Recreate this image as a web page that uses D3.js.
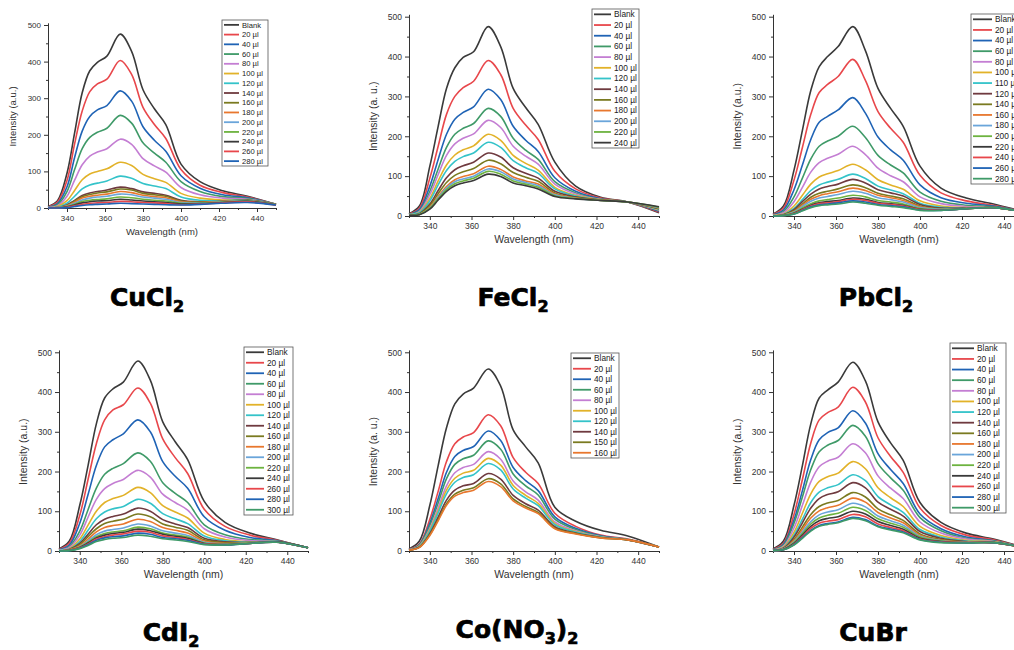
<!DOCTYPE html>
<html>
<head>
<meta charset="utf-8">
<script src="https://cdn.jsdelivr.net/npm/d3@7"></script>
<style>
  body { margin: 0; background: #fff; }
  svg { display: block; }
</style>
</head>
<body>
<svg id="chart" width="1014" height="650"></svg>
<script>
// wavelength grid (nm) shared by every spectrum
const wavelengths = [330, 335, 340, 344, 348, 352, 356, 361, 368, 374, 380, 386, 392, 400, 410, 422, 435, 450];
const yTicks = [0, 100, 200, 300, 400, 500];
const xTicks = [340, 360, 380, 400, 420, 440];

const seriesColors = ['#3a3a3a', '#e8474b', '#1f63b5', '#3f9a68', '#c47ed3', '#e2b229', '#34c3c9', '#6f3a3f',
  '#7a7a20', '#e8772e', '#6aa5da', '#6db33f', '#3a3a3a', '#e8474b', '#1f63b5', '#3f9a68'];

// CuCl2
const cuclLabels = ['Blank', '20 µl', '40 µl', '60 µl', '80 µl', '100 µl', '120 µl', '140 µl', '160 µl',
  '180 µl', '200 µl', '220 µl', '240 µl', '260 µl', '280 µl'];
const cuclSeries = [
  [4, 20, 95, 205, 315, 375, 398, 415, 475, 428, 323, 271, 228, 120, 72, 47, 32, 10],
  [3, 16, 75, 175, 265, 318, 339, 352, 403, 365, 275, 228, 190, 105, 62, 42, 30, 10],
  [2, 12, 58, 138, 210, 250, 268, 280, 320, 292, 222, 185, 155, 88, 54, 36, 28, 10],
  [2, 9, 45, 105, 162, 193, 207, 218, 253, 232, 178, 150, 125, 72, 45, 31, 26, 10],
  [1, 6, 32, 76, 118, 142, 153, 162, 188, 174, 135, 115, 98, 56, 36, 27, 24, 10],
  [0, 4, 20, 48, 77, 93, 100, 107, 125, 116, 92, 80, 70, 40, 27, 22, 22, 10],
  [0, 2, 13, 32, 52, 63, 68, 74, 87, 81, 67, 60, 53, 30, 21, 20, 22, 10],
  [0, 1, 8, 21, 34, 41, 45, 49, 57, 53, 44, 40, 35, 21, 17, 18, 21, 10],
  [0, 1, 7, 19, 31, 37, 41, 44, 52, 49, 40, 36, 32, 19, 16, 18, 21, 9],
  [0, 1, 6, 16, 27, 32, 35, 38, 45, 42, 35, 31, 28, 17, 15, 18, 20, 9],
  [0, 1, 5, 13, 22, 27, 30, 32, 38, 36, 30, 27, 24, 15, 14, 17, 20, 9],
  [0, 0, 4, 10, 18, 21, 23, 25, 30, 28, 24, 21, 19, 13, 13, 16, 19, 9],
  [0, 0, 3, 8, 14, 17, 19, 20, 24, 22, 19, 17, 15, 11, 12, 15, 18, 8],
  [0, 0, 2, 6, 10, 13, 14, 15, 18, 17, 15, 14, 12, 9, 11, 14, 17, 8],
  [0, 0, 1, 4, 7, 9, 10, 11, 13, 12, 11, 10, 9, 8, 10, 13, 15, 8]
];

// FeCl2
const feclLabels = ['Blank', '20 µl', '40 µl', '60 µl', '80 µl', '100 µl', '120 µl', '140 µl', '160 µl',
  '180 µl', '200 µl', '220 µl', '240 µl'];
const feclSeries = [
  [6, 25, 125, 225, 320, 372, 398, 412, 475, 425, 320, 272, 230, 135, 75, 47, 35, 8],
  [5, 20, 95, 175, 255, 300, 322, 338, 390, 355, 270, 228, 192, 112, 68, 45, 35, 10],
  [4, 16, 75, 142, 205, 243, 260, 274, 318, 292, 225, 190, 162, 96, 62, 43, 35, 12],
  [4, 13, 62, 118, 172, 205, 220, 232, 270, 250, 195, 165, 142, 86, 58, 42, 35, 14],
  [3, 11, 54, 104, 152, 181, 195, 206, 240, 222, 175, 150, 130, 80, 55, 41, 35, 15],
  [3, 9, 44, 88, 128, 153, 166, 176, 205, 190, 152, 132, 115, 72, 52, 41, 35, 16],
  [3, 8, 38, 78, 114, 137, 149, 158, 185, 172, 139, 121, 107, 68, 50, 40, 35, 17],
  [2, 6, 30, 64, 96, 116, 126, 135, 158, 148, 121, 107, 95, 62, 48, 40, 35, 18],
  [2, 5, 26, 56, 84, 102, 111, 119, 140, 131, 109, 97, 87, 58, 46, 40, 35, 19],
  [2, 4, 22, 49, 74, 91, 99, 106, 125, 117, 98, 88, 80, 55, 45, 39, 35, 20],
  [2, 4, 20, 46, 70, 86, 93, 100, 118, 111, 93, 84, 76, 53, 44, 39, 35, 21],
  [2, 4, 19, 43, 66, 81, 88, 95, 112, 105, 88, 80, 72, 51, 44, 39, 35, 22],
  [2, 3, 17, 40, 62, 76, 83, 89, 105, 99, 83, 76, 68, 49, 43, 39, 35, 23]
];

// PbCl2
const pbclLabels = ['Blank', '20 µl', '40 µl', '60 µl', '80 µl', '100 µl', '110 µl', '120 µl', '140 µl',
  '160 µl', '180 µl', '200 µl', '220 µl', '240 µl', '260 µl', '280 µl'];
const pbclSeries = [
  [5, 25, 115, 215, 315, 375, 400, 425, 475, 415, 320, 270, 225, 125, 70, 45, 30, 10],
  [4, 20, 90, 172, 255, 310, 330, 350, 393, 340, 262, 220, 185, 102, 58, 38, 27, 10],
  [3, 15, 66, 128, 192, 235, 250, 266, 297, 258, 198, 166, 140, 78, 46, 32, 25, 10],
  [2, 11, 48, 95, 143, 175, 188, 200, 225, 197, 152, 128, 108, 60, 37, 27, 23, 10],
  [1, 8, 36, 72, 110, 134, 145, 155, 175, 154, 120, 101, 86, 48, 31, 24, 22, 10],
  [1, 5, 25, 52, 80, 98, 106, 114, 130, 116, 91, 78, 67, 38, 25, 21, 21, 10],
  [0, 4, 19, 41, 64, 78, 85, 92, 105, 94, 75, 65, 56, 32, 22, 20, 21, 10],
  [0, 3, 16, 36, 55, 68, 74, 80, 92, 83, 66, 58, 50, 29, 20, 20, 21, 10],
  [0, 3, 13, 30, 47, 57, 62, 68, 78, 71, 57, 50, 43, 25, 18, 19, 21, 10],
  [0, 2, 11, 27, 42, 51, 56, 61, 70, 64, 52, 46, 39, 23, 17, 19, 21, 10],
  [0, 2, 10, 24, 37, 45, 49, 54, 62, 57, 46, 41, 35, 21, 17, 19, 21, 10],
  [0, 2, 8, 20, 31, 38, 41, 45, 52, 48, 39, 35, 30, 19, 16, 18, 21, 10],
  [0, 1, 7, 17, 27, 33, 36, 39, 45, 42, 34, 31, 27, 17, 15, 18, 21, 10],
  [0, 1, 6, 16, 25, 31, 33, 36, 42, 39, 32, 29, 25, 16, 15, 18, 21, 10],
  [0, 1, 5, 14, 23, 28, 30, 33, 38, 35, 29, 26, 23, 15, 14, 18, 21, 10],
  [0, 1, 5, 13, 21, 26, 28, 30, 35, 32, 27, 24, 21, 14, 14, 18, 21, 10]
];

// CdI2
const cdiLabels = ['Blank', '20 µl', '40 µl', '60 µl', '80 µl', '100 µl', '120 µl', '140 µl', '160 µl',
  '180 µl', '200 µl', '220 µl', '240 µl', '260 µl', '280 µl', '300 µl'];
const cdiSeries = [
  [5, 25, 115, 215, 320, 385, 408, 425, 478, 430, 325, 275, 230, 125, 72, 45, 28, 8],
  [4, 20, 90, 180, 270, 330, 355, 368, 410, 372, 282, 235, 195, 105, 62, 40, 27, 8],
  [3, 15, 70, 142, 215, 262, 280, 295, 330, 300, 225, 188, 158, 86, 52, 34, 26, 8],
  [2, 11, 50, 104, 158, 193, 208, 220, 247, 226, 172, 145, 122, 66, 41, 29, 25, 8],
  [2, 9, 40, 85, 130, 157, 170, 180, 203, 186, 143, 122, 103, 56, 35, 26, 24, 8],
  [1, 6, 30, 65, 100, 122, 132, 140, 160, 147, 114, 98, 83, 45, 29, 23, 23, 8],
  [1, 5, 24, 52, 81, 98, 106, 112, 130, 120, 94, 81, 69, 38, 26, 22, 23, 8],
  [0, 4, 19, 42, 66, 80, 87, 93, 108, 100, 79, 68, 59, 32, 23, 21, 23, 8],
  [0, 3, 16, 36, 56, 69, 75, 80, 93, 86, 68, 60, 52, 28, 21, 21, 23, 8],
  [0, 3, 13, 30, 48, 59, 64, 68, 80, 74, 59, 52, 45, 25, 19, 20, 23, 8],
  [0, 2, 11, 25, 41, 50, 54, 58, 68, 63, 51, 45, 39, 22, 18, 20, 23, 8],
  [0, 2, 10, 22, 36, 44, 48, 51, 60, 56, 45, 40, 35, 20, 17, 20, 23, 8],
  [0, 2, 9, 20, 33, 40, 44, 47, 55, 51, 42, 37, 32, 19, 16, 19, 23, 8],
  [0, 2, 8, 18, 30, 36, 40, 43, 50, 47, 38, 34, 29, 18, 16, 19, 22, 8],
  [0, 1, 7, 16, 27, 33, 36, 38, 45, 42, 34, 31, 27, 17, 15, 19, 22, 8],
  [0, 1, 6, 14, 24, 29, 32, 34, 40, 37, 31, 28, 24, 16, 15, 19, 22, 8]
];

// Co(NO3)2
const conoLabels = ['Blank', '20 µl', '40 µl', '60 µl', '80 µl', '100 µl', '120 µl', '140 µl', '150 µl', '160 µl'];
const conoSeries = [
  [5, 25, 115, 215, 310, 370, 395, 410, 458, 415, 305, 262, 222, 110, 75, 52, 38, 10],
  [4, 18, 80, 150, 225, 270, 287, 298, 343, 315, 235, 198, 170, 95, 62, 40, 30, 10],
  [3, 16, 70, 132, 198, 238, 253, 263, 302, 278, 210, 177, 152, 86, 57, 38, 29, 10],
  [3, 15, 64, 121, 182, 218, 232, 241, 277, 256, 194, 164, 141, 80, 54, 37, 28, 10],
  [3, 13, 57, 109, 164, 197, 210, 218, 250, 231, 176, 149, 128, 73, 51, 36, 28, 10],
  [2, 12, 53, 101, 153, 183, 196, 203, 233, 216, 165, 140, 120, 69, 49, 35, 28, 10],
  [2, 11, 50, 96, 144, 173, 185, 192, 220, 204, 156, 133, 114, 66, 48, 35, 28, 10],
  [2, 10, 44, 85, 128, 153, 164, 170, 195, 181, 140, 119, 103, 61, 45, 34, 28, 10],
  [2, 9, 41, 79, 119, 143, 153, 159, 182, 169, 131, 112, 97, 58, 44, 33, 28, 10],
  [2, 9, 39, 76, 115, 138, 147, 153, 175, 162, 126, 108, 94, 56, 43, 33, 28, 10]
];

// CuBr
const cubrLabels = ['Blank', '20 µl', '40 µl', '60 µl', '80 µl', '100 µl', '120 µl', '140 µl', '160 µl',
  '180 µl', '200 µl', '220 µl', '240 µl', '260 µl', '280 µl', '300 µl'];
const cubrSeries = [
  [5, 25, 115, 215, 320, 385, 405, 425, 475, 428, 325, 272, 228, 122, 72, 45, 30, 8],
  [4, 20, 92, 180, 272, 330, 348, 362, 412, 375, 285, 238, 198, 108, 64, 40, 28, 8],
  [3, 17, 78, 152, 230, 280, 298, 310, 353, 322, 245, 205, 170, 93, 56, 35, 26, 8],
  [3, 15, 70, 136, 205, 250, 266, 278, 316, 289, 220, 184, 153, 84, 51, 32, 25, 8],
  [2, 12, 58, 115, 174, 212, 226, 236, 270, 247, 189, 158, 132, 73, 45, 30, 24, 8],
  [2, 10, 47, 95, 144, 175, 187, 196, 225, 207, 159, 134, 112, 62, 39, 27, 23, 8],
  [2, 8, 40, 80, 122, 148, 159, 167, 192, 177, 137, 116, 97, 54, 35, 25, 22, 8],
  [1, 7, 35, 71, 108, 132, 142, 149, 172, 159, 123, 105, 88, 49, 32, 24, 22, 8],
  [1, 6, 29, 60, 92, 112, 121, 127, 147, 136, 106, 91, 77, 43, 29, 23, 21, 8],
  [1, 5, 26, 54, 83, 101, 109, 115, 133, 123, 97, 83, 71, 40, 27, 22, 21, 8],
  [1, 5, 23, 48, 74, 91, 98, 104, 120, 111, 88, 76, 65, 37, 26, 22, 21, 8],
  [1, 4, 21, 44, 68, 83, 90, 95, 110, 102, 81, 70, 60, 35, 25, 21, 21, 8],
  [1, 4, 19, 40, 62, 76, 82, 86, 100, 93, 74, 64, 55, 32, 24, 21, 21, 8],
  [1, 3, 17, 36, 57, 70, 75, 79, 92, 86, 68, 59, 51, 30, 23, 21, 21, 8],
  [1, 3, 16, 34, 52, 64, 69, 73, 85, 79, 63, 55, 48, 29, 22, 20, 21, 8],
  [1, 3, 15, 32, 50, 62, 67, 71, 82, 76, 61, 53, 46, 28, 21, 20, 21, 8]
];

// layout of each panel (pixels)
const panels = [
  { title: [['CuCl', 0], ['2', 1]], labels: cuclLabels, series: cuclSeries, yTitle: 'Intensity (a.u.)',
    left: 48, right: 276, bottom: 208, top500: 25, tx: 147, ty: 306,
    lg: { x: 222, y: 20, w: 46, h: 146, line: 15, fs: 7.6 }, fs: 8, afs: 9.5 },
  { title: [['FeCl', 0], ['2', 1]], labels: feclLabels, series: feclSeries, yTitle: 'Intensity (a. u.)',
    left: 409, right: 659, bottom: 216, top500: 16.7, tx: 513, ty: 306,
    lg: { x: 592, y: 9, w: 47, h: 139, line: 17, fs: 8.3 }, fs: 8.5, afs: 10.5 },
  { title: [['PbCl', 0], ['2', 1]], labels: pbclLabels, series: pbclSeries, yTitle: 'Intensity (a.u.)',
    left: 773, right: 1025, bottom: 216, top500: 16.7, tx: 876, ty: 306,
    lg: { x: 971, y: 14, w: 50, h: 170, line: 19, fs: 8.3 }, fs: 8.5, afs: 10.5 },
  { title: [['CdI', 0], ['2', 1]], labels: cdiLabels, series: cdiSeries, yTitle: 'Intensity (a.u.)',
    left: 59, right: 308, bottom: 551, top500: 352.3, tx: 171, ty: 641,
    lg: { x: 244, y: 347, w: 49, h: 168, line: 18, fs: 8.3 }, fs: 8.5, afs: 10.5 },
  { title: [['Co(NO', 0], ['3', 1], [')', 0], ['2', 1]], labels: conoLabels, series: conoSeries, yTitle: 'Intensity (a. u.)',
    left: 409, right: 659, bottom: 551, top500: 352.3, tx: 517, ty: 638,
    lg: { x: 571, y: 353, w: 48, h: 105, line: 18, fs: 8.3 }, fs: 8.5, afs: 10.5 },
  { title: [['CuBr', 0]], labels: cubrLabels, series: cubrSeries, yTitle: 'Intensity (a.u.)',
    left: 773, right: 1025, bottom: 551, top500: 352.3, tx: 873, ty: 641,
    lg: { x: 950, y: 343, w: 56, h: 170, line: 22, fs: 8.3 }, fs: 8.5, afs: 10.5 }
];

const svg = d3.select('#chart');
svg.append('rect').attr('width', 1014).attr('height', 650).attr('fill', '#fff');

panels.forEach((p) => {
  const g = svg.append('g');
  const x = d3.scaleLinear().domain([330, 450]).range([p.left, p.right]);
  const y = d3.scaleLinear().domain([0, 500]).range([p.bottom, p.top500]);
  const yAxisScale = y.copy().domain([0, 506]).range([p.bottom, y(506)]);

  // minor ticks
  g.append('g')
    .attr('transform', `translate(${p.left},0)`)
    .call(d3.axisLeft(yAxisScale).tickValues([50, 150, 250, 350, 450]).tickSize(2).tickFormat(''))
    .call((a) => a.select('.domain').remove());
  g.append('g')
    .attr('transform', `translate(0,${p.bottom})`)
    .call(d3.axisBottom(x).tickValues([330, 350, 370, 390, 410, 430, 450]).tickSize(2).tickFormat(''))
    .call((a) => a.select('.domain').remove());

  // major axes
  g.append('g')
    .attr('transform', `translate(${p.left},0)`)
    .call(d3.axisLeft(yAxisScale).tickValues(yTicks).tickSize(4).tickSizeOuter(0).tickPadding(3))
    .call((a) => a.selectAll('text').attr('font-size', p.fs));
  g.append('g')
    .attr('transform', `translate(0,${p.bottom})`)
    .call(d3.axisBottom(x).tickValues(xTicks).tickSize(4).tickSizeOuter(0).tickPadding(3))
    .call((a) => a.selectAll('text').attr('font-size', p.fs));

  g.selectAll('.domain, .tick line').attr('stroke', '#333').attr('stroke-width', 1);
  g.selectAll('.tick text').attr('font-family', 'Liberation Sans, Arial, sans-serif').attr('fill', '#333');

  // axis titles
  g.append('text')
    .attr('x', (x(330) + x(450)) / 2)
    .attr('y', p.bottom + 27)
    .attr('text-anchor', 'middle')
    .attr('font-family', 'Liberation Sans, Arial, sans-serif')
    .attr('font-size', p.afs)
    .attr('fill', '#333')
    .text('Wavelength (nm)');
  g.append('text')
    .attr('transform', `translate(${p.left - 32},${(p.bottom + p.top500) / 2}) rotate(-90)`)
    .attr('text-anchor', 'middle')
    .attr('font-family', 'Liberation Sans, Arial, sans-serif')
    .attr('font-size', p.afs)
    .attr('fill', '#333')
    .text(p.yTitle);

  // spectra
  const line = d3.line()
    .x((d, i) => x(wavelengths[i]))
    .y((d) => y(d))
    .curve(d3.curveCatmullRom.alpha(0.5));
  g.append('g')
    .selectAll('path')
    .data(p.series)
    .enter()
    .append('path')
    .attr('d', line)
    .attr('fill', 'none')
    .attr('stroke', (d, i) => seriesColors[i])
    .attr('stroke-width', 1.6)
    .attr('stroke-linejoin', 'round');

  // legend
  const lg = p.lg;
  const rowH = lg.h / p.labels.length;
  const legend = g.append('g');
  legend.append('rect')
    .attr('x', lg.x).attr('y', lg.y)
    .attr('width', lg.w).attr('height', lg.h)
    .attr('fill', '#fff').attr('stroke', '#555').attr('stroke-width', 0.8);
  const rows = legend.selectAll('g.row')
    .data(p.labels)
    .enter()
    .append('g')
    .attr('class', 'row')
    .attr('transform', (d, i) => `translate(${lg.x + 2},${lg.y + rowH * (i + 0.5)})`);
  rows.append('line')
    .attr('x1', 0).attr('x2', lg.line)
    .attr('stroke', (d, i) => seriesColors[i])
    .attr('stroke-width', 1.8);
  rows.append('text')
    .attr('x', lg.line + 3)
    .attr('dy', '0.35em')
    .attr('font-family', 'Liberation Sans, Arial, sans-serif')
    .attr('font-size', lg.fs)
    .attr('fill', '#222')
    .text((d) => d);

  // compound name
  const t = svg.append('text')
    .attr('x', p.tx).attr('y', p.ty)
    .attr('text-anchor', 'middle')
    .attr('font-family', 'DejaVu Sans, sans-serif')
    .attr('font-weight', 'bold')
    .attr('font-size', 25)
    .attr('stroke', '#000').attr('stroke-width', 0.7)
    .attr('fill', '#000');
  let shifted = false;
  p.title.forEach(([s, sub]) => {
    const ts = t.append('tspan').text(s);
    if (sub && !shifted) { ts.attr('dy', 6).attr('font-size', 16); shifted = true; }
    else if (sub) { ts.attr('font-size', 16); }
    else if (!sub && shifted) { ts.attr('dy', -6); shifted = false; }
  });
});
</script>
</body>
</html>
